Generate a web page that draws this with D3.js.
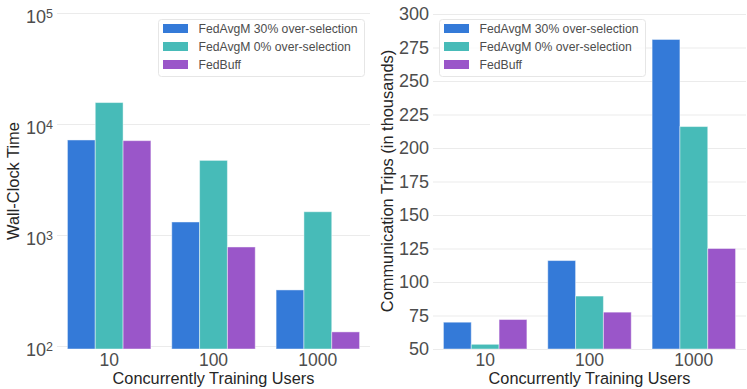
<!DOCTYPE html>
<html>
<head>
<meta charset="utf-8">
<script src="https://cdn.jsdelivr.net/npm/d3@7"></script>
<style>
  body { margin: 0; background: #fff; }
  svg { display: block; font-family: "Liberation Sans", Arial, sans-serif; }
</style>
</head>
<body>
<svg id="chart" width="747" height="389"></svg>
<script>
var users = ['10', '100', '1000'];
var seriesNames = ['FedAvgM 30% over-selection', 'FedAvgM 0% over-selection', 'FedBuff'];
var colors = ['#347ad8', '#47bbb8', '#9a56c9'];

// wall-clock time, per series, per users group
var wallClock = [
    [7180, 1310, 320],
    [15600, 4700, 1620],
    [7080, 780, 134]
];

// communication trips (thousands)
var commTrips = [
    [70, 116, 281],
    [53.5, 89.5, 216],
    [72, 77.5, 125]
];
var commTicks = [50, 75, 100, 125, 150, 175, 200, 225, 250, 275, 300];
var logTicks = [100, 1000, 10000, 100000];

var svg = d3.select('#chart');
var plotTop = 13, plotBottom = 349;

function drawPanel(opts) {
    var g = svg.append('g');

    var x = d3.scaleBand()
        .domain(users)
        .range([opts.x0, opts.x1]);

    var sub = d3.scaleBand()
        .domain(d3.range(seriesNames.length))
        .range([x.bandwidth() * 0.1, x.bandwidth() * 0.9]);

    var y = opts.y;

    // gridlines + tick labels
    var yAxis = d3.axisLeft(y)
        .tickValues(opts.ticks)
        .tickSize(-(opts.x1 - opts.x0))
        .tickPadding(5)
        .tickFormat(opts.fmt);

    var ga = g.append('g')
        .attr('transform', 'translate(' + opts.x0 + ',0)')
        .call(yAxis);
    ga.select('.domain').remove();
    ga.selectAll('.tick line')
        .attr('stroke', '#ebebeb')
        .attr('stroke-width', 1);
    ga.selectAll('.tick text')
        .attr('fill', '#4d4d4d')
        .style('font-size', '18px')
        .attr('x', -4);

    if(opts.log) {
        ga.selectAll('.tick text').each(function(d) {
            var t = d3.select(this).text('');
            t.append('tspan').text('10');
            t.append('tspan')
                .attr('dy', '-0.45em')
                .style('font-size', '12.5px')
                .text(Math.round(Math.log10(d)));
        });
        ga.selectAll('.tick text').attr('dy', '0.55em');
    }

    // bars
    opts.data.forEach(function(vals, si) {
        g.append('g').selectAll('rect')
            .data(vals)
            .join('rect')
            .attr('x', function(d, i) { return x(users[i]) + sub(si); })
            .attr('width', sub.bandwidth())
            .attr('y', function(d) { return y(d); })
            .attr('height', function(d) { return plotBottom - y(d); })
            .attr('fill', colors[si])
            .attr('stroke', 'rgba(255,255,255,0.45)')
            .attr('stroke-width', 1);
    });

    // x axis labels
    var xAxis = d3.axisBottom(x).tickSize(0).tickPadding(0);
    var gx = g.append('g')
        .attr('transform', 'translate(0,' + plotBottom + ')')
        .call(xAxis);
    gx.select('.domain').remove();
    gx.selectAll('.tick text')
        .attr('fill', '#4d4d4d')
        .attr('dy', null)
        .attr('y', 16.5)
        .style('font-size', '17.5px');

    g.append('text')
        .attr('x', (opts.x0 + opts.x1) / 2)
        .attr('y', 384)
        .attr('text-anchor', 'middle')
        .attr('fill', '#262626')
        .style('font-size', '16.3px')
        .text('Concurrently Training Users');

    g.append('text')
        .attr('transform', 'translate(' + opts.titleX + ',' + (plotTop + plotBottom) / 2 + ') rotate(-90)')
        .attr('text-anchor', 'middle')
        .attr('fill', '#262626')
        .style('font-size', '16.4px')
        .text(opts.title);

    // legend
    var lg = g.append('g').attr('transform', 'translate(' + opts.legX + ',19.5)');
    lg.append('rect')
        .attr('width', 206)
        .attr('height', 57)
        .attr('rx', 3)
        .attr('fill', '#fff')
        .attr('fill-opacity', 0.8)
        .attr('stroke', '#e6e6e6');
    var items = lg.selectAll('g.item')
        .data(seriesNames)
        .join('g')
        .attr('class', 'item')
        .attr('transform', function(d, i) { return 'translate(4.5,' + (4.5 + i * 18) + ')'; });
    items.append('rect')
        .attr('width', 25)
        .attr('height', 9)
        .attr('fill', function(d, i) { return colors[i]; });
    items.append('text')
        .attr('x', 35.5)
        .attr('y', 9)
        .attr('fill', '#4d4d4d')
        .style('font-size', '12.2px')
        .text(function(d) { return d; });
}

drawPanel({
    x0: 57, x1: 370,
    y: d3.scaleLog().domain([Math.pow(10, 1.973), 1e5]).range([plotBottom, plotTop]),
    ticks: logTicks,
    log: true,
    fmt: function(d) { return d; },
    data: wallClock,
    title: 'Wall-Clock Time',
    titleX: 19,
    legX: 158.5
});

drawPanel({
    x0: 433, x1: 746,
    y: d3.scaleLinear().domain([50, 300]).range([plotBottom, plotTop + 1]),
    ticks: commTicks,
    log: false,
    fmt: d3.format('d'),
    data: commTrips,
    title: 'Communication Trips (in thousands)',
    titleX: 393,
    legX: 439.5
});
</script>
</body>
</html>
